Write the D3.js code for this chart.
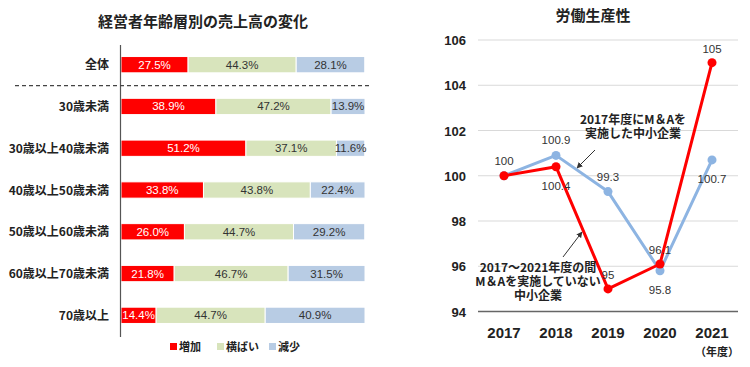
<!DOCTYPE html>
<html>
<head>
<meta charset="utf-8">
<script src="https://cdn.jsdelivr.net/npm/d3@7"></script>
<style>
  body { margin: 0; background: #fff; }
  svg { font-family: "Noto Sans CJK JP", "Noto Sans", sans-serif; }
</style>
</head>
<body>
<svg id="chart" width="750" height="367"></svg>
<script>
// left chart data
var groups = ['全体', '30歳未満', '30歳以上40歳未満', '40歳以上50歳未満', '50歳以上60歳未満', '60歳以上70歳未満', '70歳以上'];
var zouka = [27.5, 38.9, 51.2, 33.8, 26.0, 21.8, 14.4];
var yokobai = [44.3, 47.2, 37.1, 43.8, 44.7, 46.7, 44.7];
var genshou = [28.1, 13.9, 11.6, 22.4, 29.2, 31.5, 40.9];
var seriesNames = ['増加', '横ばい', '減少'];

// right chart data
var years = ['2017', '2018', '2019', '2020', '2021'];
var withMA = [100, 100.9, 99.3, 95.8, 100.7];
var withoutMA = [100, 100.4, 95, 96.1, 105];
var yTicks = [94, 96, 98, 100, 102, 104, 106];

var svg = d3.select('#chart');
var colors = ['#ff0000', '#d8e4bc', '#b8cce4'];

// ---- left: stacked 100% bars
var x = d3.scaleLinear().domain([0, 100]).range([121, 365]);
var y = d3.scaleBand().domain(groups).range([44, 336]).paddingInner(0.61).paddingOuter(0.3);

svg.append('text').attr('x', 203).attr('y', 27).attr('text-anchor', 'middle')
  .attr('font-size', 15).attr('font-weight', 'bold').attr('fill', '#222')
  .text('経営者年齢層別の売上高の変化');

var rows = groups.map(function(g, i) {
  var vals = [zouka[i], yokobai[i], genshou[i]];
  var acc = 0;
  return vals.map(function(v, k) {
    var s = {g: g, k: k, v: v, x0: acc, x1: acc + v};
    acc += v;
    return s;
  });
});
var segs = [].concat.apply([], rows);

svg.append('g').selectAll('rect').data(segs).enter().append('rect')
  .attr('x', function(d) { return x(d.x0); })
  .attr('width', function(d) { return x(d.x1) - x(d.x0); })
  .attr('y', function(d) { return y(d.g); })
  .attr('height', y.bandwidth())
  .attr('fill', function(d) { return colors[d.k]; })
  .attr('stroke', '#fff').attr('stroke-width', 1);

svg.append('g').selectAll('text').data(segs).enter().append('text')
  .attr('x', function(d) { return (x(d.x0) + x(d.x1)) / 2; })
  .attr('y', function(d) { return y(d.g) + y.bandwidth() / 2 + 4; })
  .attr('text-anchor', 'middle').attr('font-size', 11.5)
  .attr('font-family', 'Arial, "Liberation Sans", sans-serif')
  .attr('fill', function(d) { return d.k === 0 ? '#fff' : '#333'; })
  .text(function(d) { return d.v.toFixed(1) + '%'; });

svg.append('g').selectAll('text').data(groups).enter().append('text')
  .attr('x', 109).attr('y', function(d) { return y(d) + y.bandwidth() / 2 + 4.5; })
  .attr('text-anchor', 'end').attr('font-size', 12).attr('font-weight', 'bold').attr('fill', '#222')
  .text(function(d) { return d; });

svg.append('line').attr('x1', 120.5).attr('x2', 120.5).attr('y1', 45).attr('y2', 337)
  .attr('stroke', '#555').attr('stroke-width', 1.2);
var sepY = (y(groups[0]) + y.bandwidth() + y(groups[1])) / 2;
svg.append('line').attr('x1', 15).attr('x2', 370).attr('y1', sepY).attr('y2', sepY)
  .attr('stroke', '#444').attr('stroke-width', 1.2).attr('stroke-dasharray', '4,3');

var legX = [170, 217, 269];
var lg = svg.append('g').selectAll('g').data(seriesNames).enter().append('g')
  .attr('transform', function(d, i) { return 'translate(' + legX[i] + ',347)'; });
lg.append('rect').attr('x', 0).attr('y', -4).attr('width', 7).attr('height', 7)
  .attr('fill', function(d, i) { return colors[i]; });
lg.append('text').attr('x', 9).attr('y', 4).attr('font-size', 11).attr('font-weight', 'bold')
  .attr('fill', '#222').text(function(d) { return d; });

// ---- right: line chart
var xr = d3.scalePoint().domain(years).range([478, 738]).padding(0.5);
var yr = d3.scaleLinear().domain([94, 106]).range([311.5, 40]);

svg.append('text').attr('x', 593).attr('y', 21).attr('text-anchor', 'middle')
  .attr('font-size', 15).attr('font-weight', 'bold').attr('fill', '#222').text('労働生産性');

svg.append('g').selectAll('line').data(yTicks).enter().append('line')
  .attr('x1', 478).attr('x2', 738)
  .attr('y1', function(d) { return yr(d); }).attr('y2', function(d) { return yr(d); })
  .attr('stroke', function(d) { return d === 94 ? '#666' : '#d9d9d9'; })
  .attr('stroke-width', function(d) { return d === 94 ? 1.5 : 1; });

svg.append('g').selectAll('text').data(yTicks).enter().append('text')
  .attr('x', 466).attr('y', function(d) { return yr(d) + 5; })
  .attr('text-anchor', 'end').attr('font-size', 13).attr('font-weight', 'bold')
  .attr('font-family', 'Arial, "Liberation Sans", sans-serif').attr('fill', '#222')
  .text(function(d) { return d; });

svg.append('g').selectAll('text').data(years).enter().append('text')
  .attr('x', function(d) { return xr(d); }).attr('y', 338)
  .attr('text-anchor', 'middle').attr('font-size', 15).attr('font-weight', 'bold')
  .attr('font-family', 'Arial, "Liberation Sans", sans-serif').attr('fill', '#222')
  .text(function(d) { return d; });

svg.append('text').attr('x', 739).attr('y', 356).attr('text-anchor', 'end')
  .attr('font-size', 11).attr('font-weight', 'bold').attr('fill', '#222').text('（年度）');

var line = d3.line().x(function(d, i) { return xr(years[i]); }).y(function(d) { return yr(d); });

function drawSeries(vals, color) {
  svg.append('path').datum(vals).attr('d', line).attr('fill', 'none')
    .attr('stroke', color).attr('stroke-width', 3).attr('stroke-linejoin', 'round');
  svg.append('g').selectAll('circle').data(vals).enter().append('circle')
    .attr('cx', function(d, i) { return xr(years[i]); }).attr('cy', function(d) { return yr(d); })
    .attr('r', 4.5).attr('fill', color);
}
drawSeries(withMA, '#8db4e2');
drawSeries(withoutMA, '#ff0000');

// data labels: offset above (-) or below (+)
var blueOff = [-15, -15, -15, 19, 19];
var redOff = [null, 19, -14, -14, -14];
function drawLabels(vals, offs) {
  svg.append('g').selectAll('text').data(vals).enter()
    .filter(function(d, i) { return offs[i] !== null; })
    .append('text')
    .attr('x', function(d) { return xr(years[vals.indexOf(d)]); })
    .attr('y', function(d) { var i = vals.indexOf(d); return yr(d) + offs[i] + 4; })
    .attr('text-anchor', 'middle').attr('font-size', 11.5)
    .attr('font-family', 'Arial, "Liberation Sans", sans-serif').attr('fill', '#333')
    .text(function(d) { return d; });
}
drawLabels(withMA, blueOff);
drawLabels(withoutMA, redOff);

// annotations
function note(lines, cx, y0) {
  var t = svg.append('text').attr('text-anchor', 'middle').attr('font-size', 12)
    .attr('font-weight', 'bold').attr('fill', '#222');
  lines.forEach(function(s, i) {
    t.append('tspan').attr('x', cx).attr('y', y0 + i * 14).text(s);
  });
}
note(['2017年度にM＆Aを', '実施した中小企業'], 633, 124);
note(['2017～2021年度の間', 'M＆Aを実施していない', '中小企業'], 538, 272);

svg.append('defs').append('marker').attr('id', 'ah').attr('viewBox', '0 0 10 10')
  .attr('refX', 9).attr('refY', 5).attr('markerWidth', 6).attr('markerHeight', 6)
  .attr('orient', 'auto').append('path').attr('d', 'M0,0L10,5L0,10z').attr('fill', '#333');
svg.append('line').attr('x1', 595).attr('y1', 150).attr('x2', 577).attr('y2', 168)
  .attr('stroke', '#333').attr('stroke-width', 1).attr('marker-end', 'url(#ah)');
svg.append('line').attr('x1', 563).attr('y1', 257).attr('x2', 582).attr('y2', 232)
  .attr('stroke', '#333').attr('stroke-width', 1).attr('marker-end', 'url(#ah)');
</script>
</body>
</html>
